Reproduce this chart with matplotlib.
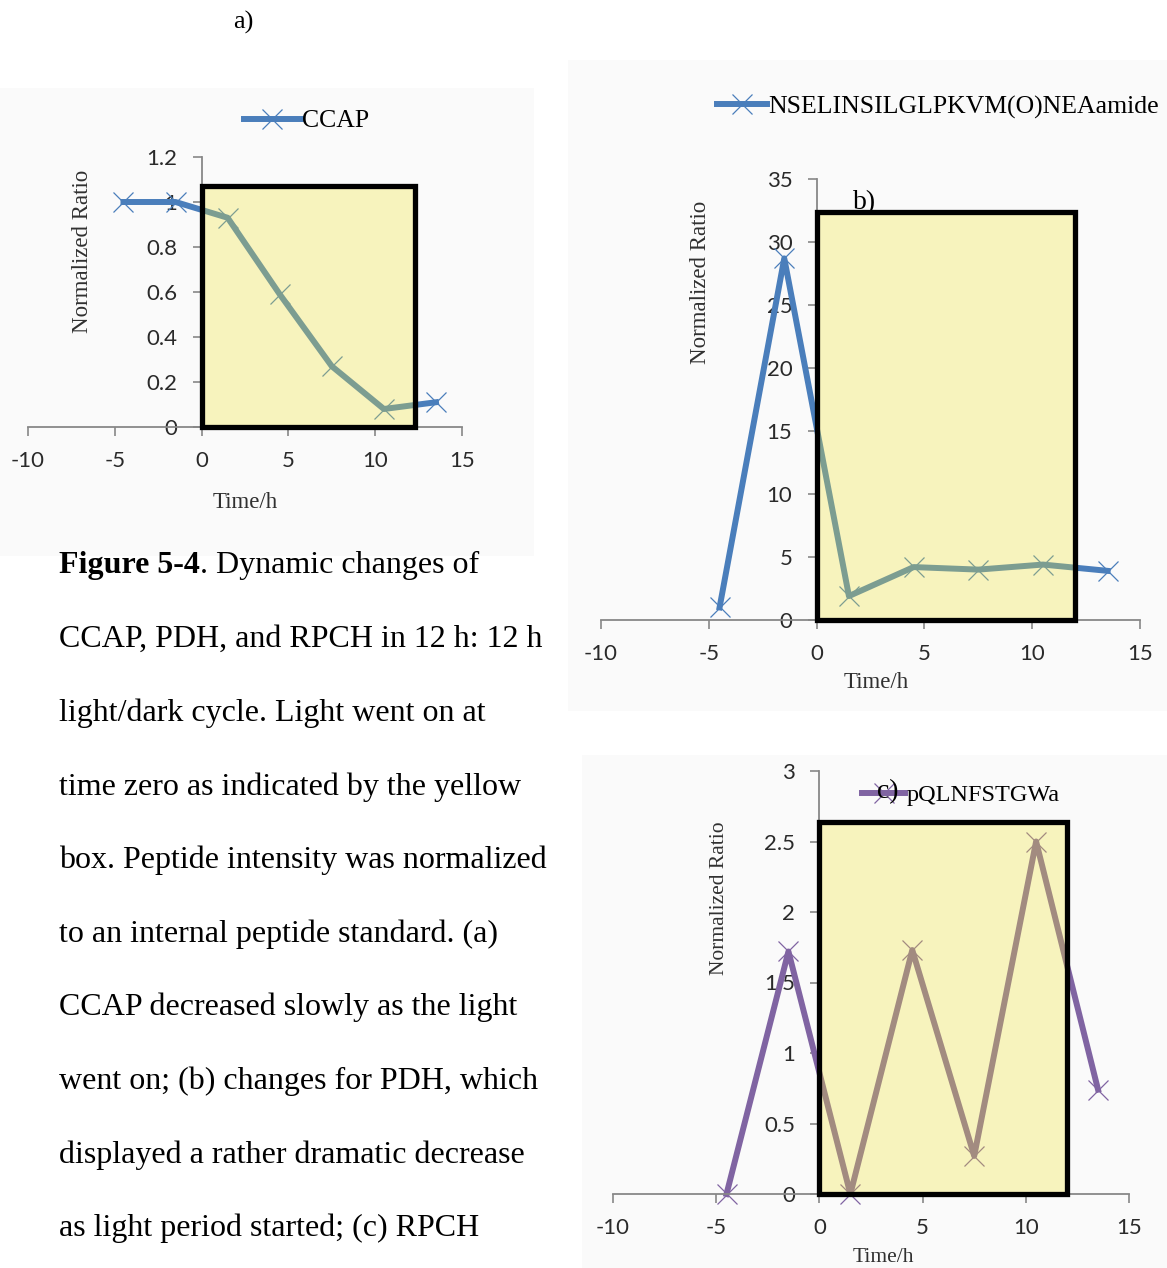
import matplotlib
matplotlib.use("Agg")
import matplotlib.pyplot as plt
from matplotlib.patches import Rectangle
from matplotlib.lines import Line2D

# ---- data ----
time_h = [-4.5, -1.5, 1.5, 4.5, 7.5, 10.5, 13.5]
ccap = [1.0, 1.0, 0.93, 0.59, 0.27, 0.08, 0.11]
pdh = [1.0, 28.7, 1.9, 4.2, 4.0, 4.4, 3.9]
rpch = [0.0, 1.72, 0.0, 1.73, 0.27, 2.5, 0.74]

x_ticks = [-10, -5, 0, 5, 10, 15]
ccap_yticks = [0, 0.2, 0.4, 0.6, 0.8, 1, 1.2]
pdh_yticks = [0, 5, 10, 15, 20, 25, 30, 35]
rpch_yticks = [0, 0.5, 1, 1.5, 2, 2.5, 3]

caption_lines = [
    "CCAP, PDH, and RPCH in 12 h: 12 h",
    "light/dark cycle. Light went on at",
    "time zero as indicated by the yellow",
    "box. Peptide intensity was normalized",
    "to an internal peptide standard. (a)",
    "CCAP decreased slowly as the light",
    "went on; (b) changes for PDH, which",
    "displayed a rather dramatic decrease",
    "as light period started; (c) RPCH",
]

W, H = 1167, 1268
SERIF = "Liberation Serif"
SANS = "Lato"
BLUE = "#4A7EBB"
PURPLE = "#8064A2"
AXIS_GREY = "#878787"
BOX_FILL = (243 / 255, 230 / 255, 50 / 255, 0.3)

fig = plt.figure(figsize=(W / 100, H / 100), dpi=100)
fig.patch.set_facecolor("white")


def fx(x):
    return x / W


def fy(y):
    return 1 - y / H


def panel(x0, y0, x1, y1):
    # faint grey backdrop of each pasted chart
    fig.patches.append(Rectangle((fx(x0), fy(y1)), fx(x1 - x0), (y1 - y0) / H,
                                 transform=fig.transFigure, facecolor="#FAFAFA",
                                 edgecolor="none", zorder=-5))


def make_axes(x_left, x_right, y_top, y_bottom, ymax, yticks):
    ax = fig.add_axes([fx(x_left), fy(y_bottom), (x_right - x_left) / W,
                       (y_bottom - y_top) / H])
    ax.set_facecolor("none")
    ax.set_xlim(-10, 15)
    ax.set_ylim(0, ymax)
    ax.set_xticks(x_ticks)
    ax.set_yticks(yticks)
    ax.set_xticklabels([str(t) for t in x_ticks])
    ax.set_yticklabels([f"{t:g}" for t in yticks])
    for s in ["top", "right"]:
        ax.spines[s].set_visible(False)
    ax.spines["left"].set_position(("data", 0))
    for s in ["left", "bottom"]:
        ax.spines[s].set_color(AXIS_GREY)
        ax.spines[s].set_linewidth(1.3)
    ax.tick_params(direction="out", length=6.5, width=1.2, color=AXIS_GREY,
                   labelcolor="#2a2a2a", labelsize=16, pad=11)
    for lab in ax.get_xticklabels() + ax.get_yticklabels():
        lab.set_fontfamily(SANS)
    return ax


def draw_series(ax, y, color, box_w, box_h):
    ax.plot(time_h, y, color=color, lw=4.3, marker="x", ms=15, mew=0.9,
            zorder=2, clip_on=False)
    box = Rectangle((0, 0), box_w, box_h, facecolor=BOX_FILL,
                    edgecolor="black", lw=3.8, zorder=3, clip_on=False)
    ax.add_patch(box)


def add_legend(ax, label, color, x_px, y_px, size, hlen):
    h = Line2D([], [], color=color, lw=4.3, marker="x", ms=15, mew=0.9)
    leg = ax.legend([h], [label], loc="center left",
                    bbox_to_anchor=(fx(x_px), fy(y_px)), bbox_transform=fig.transFigure,
                    frameon=False, borderpad=0, borderaxespad=0, handlelength=hlen,
                    handletextpad=0.05, prop={"family": SERIF, "size": size})
    return leg


def axis_labels(xlab, ylab, size):
    fig.text(fx(ylab[0]), fy(ylab[1]), "Normalized Ratio", rotation=90, ha="center",
             va="center", family=SERIF, size=size, color="#303030")
    fig.text(fx(xlab[0]), fy(xlab[1]), "Time/h", ha="center", va="center",
             family=SERIF, size=size, color="#303030")


# ---- backdrops ----
panel(0, 88, 534, 556)
panel(568, 60, 1167, 711)
panel(582, 755, 1167, 1268)

# ---- (a) CCAP ----
ax_a = make_axes(28, 462, 157, 427, 1.2, ccap_yticks)
draw_series(ax_a, ccap, BLUE, 12.3, 1.07)
add_legend(ax_a, "CCAP", BLUE, 244, 121, 18.5, 2.2)
axis_labels((245, 503), (83, 251), 16.5)

# ---- (b) PDH ----
ax_b = make_axes(601, 1140, 179, 620, 35, pdh_yticks)
draw_series(ax_b, pdh, BLUE, 12, 32.4)
add_legend(ax_b, "NSELINSILGLPKVM(O)NEAamide", BLUE, 717, 107, 18.5, 1.95)
axis_labels((876, 683), (700, 282), 16.5)
ax_b.text(fx(865), fy(203), "b)", transform=fig.transFigure, ha="center", va="center",
          family=SERIF, size=20, zorder=2.5, clip_on=False)

# ---- (c) RPCH ----
ax_c = make_axes(613, 1129, 771, 1194, 3, rpch_yticks)
draw_series(ax_c, rpch, PURPLE, 12, 2.64)
add_legend(ax_c, "pQLNFSTGWa", PURPLE, 862, 795, 17.5, 1.77)
axis_labels((883, 1257), (720, 898), 15.5)
fig.text(fx(888), fy(792), "c)", ha="center", va="center", family=SERIF, size=20)

# ---- panel tag and caption ----
fig.text(fx(243), fy(22), "a)", ha="center", va="center", family=SERIF, size=19)

line_gap = 73.6
first = fig.text(fx(59), fy(566), "Figure 5-4", ha="left", va="center",
                 family=SERIF, size=23, weight="bold")
ax_a.annotate(". Dynamic changes of", xy=(1, 0), xycoords=first, ha="left", va="bottom",
              family=SERIF, size=23, annotation_clip=False)
for i, line in enumerate(caption_lines):
    fig.text(fx(59), fy(566 + line_gap * (i + 1)), line, ha="left", va="center",
             family=SERIF, size=23)

fig.savefig("out.png", dpi=100)
